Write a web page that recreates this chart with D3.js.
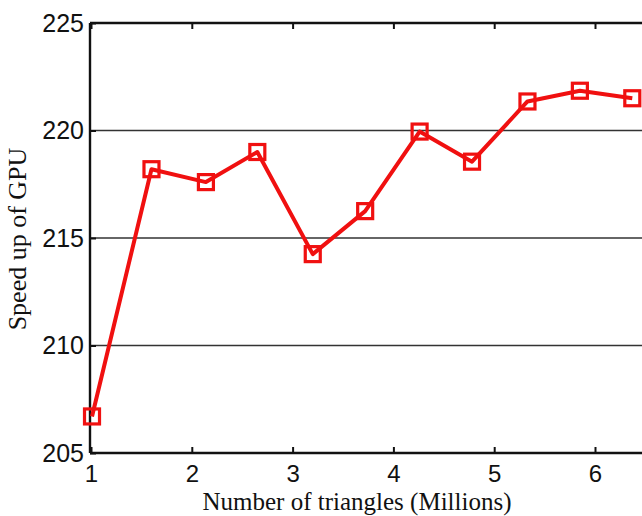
<!DOCTYPE html>
<html><head><meta charset="utf-8">
<script src="https://cdn.jsdelivr.net/npm/d3@7"></script>
<style>html,body{margin:0;padding:0;background:#fff;overflow:hidden}</style>
</head><body>
<script>
const xValues = [1.01, 1.60, 2.14, 2.65, 3.20, 3.72, 4.26, 4.78, 5.33, 5.85, 6.37];
const speedup = [206.7, 218.2, 217.6, 219.0, 214.25, 216.25, 219.95, 218.55, 221.35, 221.85, 221.5];
const xTicks = [1, 2, 3, 4, 5, 6];
const yTicks = [205, 210, 215, 220, 225];
const xTitle = "Number of triangles (Millions)";
const yTitle = "Speed up of GPU";

const W = 642, H = 516;
const svg = d3.select("body").append("svg").attr("width", W).attr("height", H);
const x = d3.scaleLinear().domain([1, 6.5]).range([91, 645.4]);
const y = d3.scaleLinear().domain([205, 225]).range([453, 23]);
const left = 90, right = 642;

// grid
svg.append("g").selectAll("line").data(yTicks.filter(v => v > 205 && v < 225)).join("line")
  .attr("x1", left).attr("x2", right).attr("y1", d => y(d)).attr("y2", d => y(d))
  .attr("stroke", "#333").attr("stroke-width", 1.6);

// axes lines
svg.append("line").attr("x1", left).attr("x2", right).attr("y1", y(225)).attr("y2", y(225)).attr("stroke", "#111").attr("stroke-width", 2.4);
svg.append("line").attr("x1", left).attr("x2", right).attr("y1", y(205)).attr("y2", y(205)).attr("stroke", "#111").attr("stroke-width", 2.4);
svg.append("line").attr("x1", left).attr("x2", left).attr("y1", y(225)).attr("y2", y(205)).attr("stroke", "#111").attr("stroke-width", 2.4);

const tickFont = "Liberation Sans, Arial, sans-serif";
// ticks
const bottomAxis = d3.axisBottom(x).tickValues(xTicks).tickSize(-6).tickFormat(d3.format("d")).tickPadding(12);
const gb = svg.append("g").attr("transform", `translate(0,${y(205)})`).call(bottomAxis);
gb.select(".domain").remove();
gb.selectAll(".tick line").attr("stroke", "#111").attr("stroke-width", 2);
gb.selectAll(".tick text").attr("font-family", tickFont).attr("font-size", 24).attr("fill", "#111");

const topAxis = d3.axisTop(x).tickValues(xTicks).tickSize(-6).tickFormat("");
const gt = svg.append("g").attr("transform", `translate(0,${y(225)})`).call(topAxis);
gt.select(".domain").remove();
gt.selectAll(".tick line").attr("stroke", "#111").attr("stroke-width", 2);

const leftAxis = d3.axisLeft(y).tickValues(yTicks).tickSize(-6).tickFormat(d3.format("d")).tickPadding(6);
const gl = svg.append("g").attr("transform", `translate(${left},0)`).call(leftAxis);
gl.select(".domain").remove();
gl.selectAll(".tick line").attr("stroke", "#111").attr("stroke-width", 2);
gl.selectAll(".tick text").attr("font-family", tickFont).attr("font-size", 25).attr("fill", "#111");

// line
const data = xValues.map((v, i) => ({x: v, y: speedup[i]}));
svg.append("path").datum(data)
  .attr("d", d3.line().x(d => x(d.x)).y(d => y(d.y)))
  .attr("fill", "none").attr("stroke", "#f01010").attr("stroke-width", 4).attr("stroke-linejoin", "round");
svg.append("g").selectAll("rect").data(data).join("rect")
  .attr("x", d => x(d.x) - 7.5).attr("y", d => y(d.y) - 7.5).attr("width", 15).attr("height", 15)
  .attr("fill", "none").attr("stroke", "#f01010").attr("stroke-width", 3.2);

// titles
svg.append("text").attr("x", 357).attr("y", 510).attr("text-anchor", "middle")
  .attr("font-family", "Liberation Serif, Times New Roman, serif").attr("font-size", 25).attr("fill", "#111").text(xTitle);
svg.append("text").attr("transform", "translate(26,239) rotate(-90)").attr("text-anchor", "middle")
  .attr("font-family", "Liberation Serif, Times New Roman, serif").attr("font-size", 26).attr("fill", "#111").text(yTitle);
</script>
</body></html>
